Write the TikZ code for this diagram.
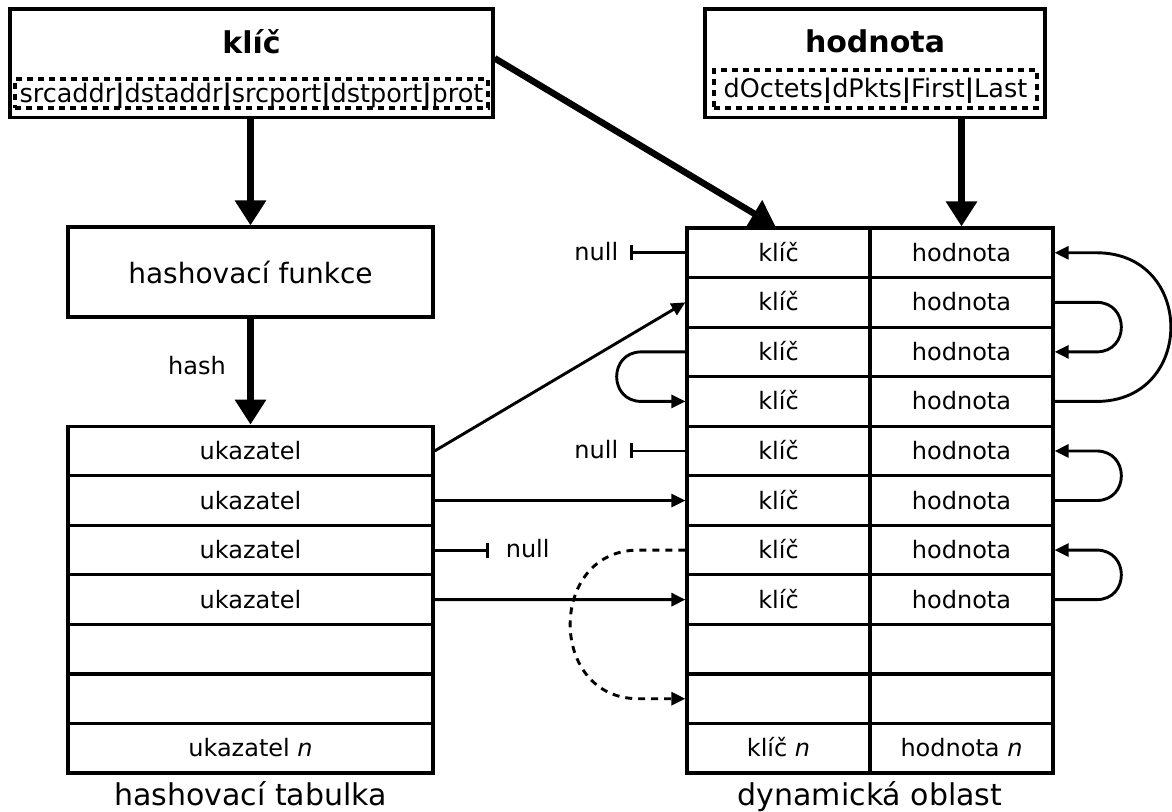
\documentclass[tikz,border=0pt]{standalone}
\usepackage{fontspec}
\setmainfont{DejaVu Sans}
\usetikzlibrary{arrows.meta}

\begin{document}
\begin{tikzpicture}[x=1pt,y=-1pt,
  box/.style={draw, line width=3.2pt, inner sep=0pt, rectangle},
  cell/.style={draw, line width=3.2pt, inner sep=0pt, minimum height=49.55pt,
    font=\fontsize{24}{28}\selectfont, text height=22pt, text depth=5pt},
  fields/.style={draw, line width=3.2pt, dash pattern=on 6pt off 5pt, inner sep=0pt,
    font=\fontsize{25.5}{30}\selectfont, text height=23pt, text depth=6pt},
  title/.style={font=\fontsize{30}{36}\selectfont\bfseries, inner sep=0pt, anchor=base},
  big/.style={line width=6.5pt, -{Triangle[length=25pt,width=30pt]}},
  ptr/.style={line width=2.9pt, -{Triangle[length=14pt,width=13pt]}},
  nil/.style={line width=2.9pt, -{Bar[width=15pt]}},
  lbl/.style={font=\fontsize{24}{28}\selectfont, inner sep=0pt},
  caption/.style={font=\fontsize{30}{36}\selectfont, inner sep=0pt, anchor=base},
]
\useasboundingbox (0,0) rectangle (1172,811);

% key record
\node[box, minimum width=483pt, minimum height=108.5pt] (key) at (251.5,63.25) {};
\node[title] (keyname) at (251.5,53) {klíč};
\node[fields, minimum width=473pt, minimum height=29pt] (keyfields) at (251.5,93.5)
  {srcaddr\textbf{|}dstaddr\textbf{|}srcport\textbf{|}dstport\textbf{|}prot};

% value record
\node[box, minimum width=340pt, minimum height=108.5pt] (val) at (875,63.25) {};
\node[title] (valname) at (875,52) {hodnota};
\node[fields, minimum width=323pt, minimum height=38pt, text height=22pt] (valfields) at (875.5,89)
  {dOctets\textbf{|}dPkts\textbf{|}First\textbf{|}Last};

% hash function
\node[box, minimum width=365pt, minimum height=90pt, font=\fontsize{28}{34}\selectfont,
  text height=27pt, text depth=5pt] (hashf) at (250.5,272) {hashovací funkce};

% hash table
\foreach \t [count=\i from 0] in {ukazatel,ukazatel,ukazatel,ukazatel,{},{},{ukazatel \textit{n}}}
  \node[cell, minimum width=365pt] (h\i) at (250.5,{426.2+49.55*(\i+0.5)}) {\t};

% dynamic area: keys and values
\foreach \t [count=\i from 0] in {klíč,klíč,klíč,klíč,klíč,klíč,klíč,klíč,{},{},{klíč \textit{n}}}
  \node[cell, minimum width=183pt] (k\i) at (778.5,{228+49.55*(\i+0.5)}) {\t};
\foreach \t [count=\i from 0] in {hodnota,hodnota,hodnota,hodnota,hodnota,hodnota,hodnota,hodnota,{},{},{hodnota \textit{n}}}
  \node[cell, minimum width=183pt] (v\i) at (961.5,{228+49.55*(\i+0.5)}) {\t};

% captions
\node[caption] (htcap) at (250.5,805) {hashovací tabulka};
\node[caption] (dacap) at (870,805) {dynamická oblast};

% main flow
\draw[big] (hashf.north |- key.south) -- (hashf.north);
\draw[big] (hashf.south) -- (h0.north);
\node[lbl, anchor=base] (hashlbl) at (197,374) {hash};
\draw[big] ([yshift=5pt]key.east) -- ([xshift=-3pt]k0.north);
\draw[big] (v0.north |- val.south) -- (v0.north);

% table pointers
\draw[ptr] (h0.east) -- (k1.west);
\draw[ptr] (h1.east) -- (k5.west);
\draw[ptr] (h3.east) -- (k7.west);

% null pointers
\coordinate (nk0) at ([xshift=-55pt]k0.west);
\draw[nil] (k0.west) -- (nk0);
\node[lbl, anchor=base east] (null0) at ([xshift=-67pt,yshift=-7.5pt]k0.west) {null};
\coordinate (nk4) at ([xshift=-55pt]k4.west);
\draw[nil] (k4.west) -- (nk4);
\node[lbl, anchor=base east] (null4) at ([xshift=-67pt,yshift=-7.5pt]k4.west) {null};
\coordinate (nh2) at ([xshift=54pt]h2.east);
\draw[nil] (h2.east) -- (nh2);
\node[lbl, anchor=base west] (nullh) at ([xshift=71pt,yshift=-7.5pt]h2.east) {null};

% value chains on the right
\draw[ptr] (v1.east) -- ++(42,0) .. controls +(33,0) and +(33,0) .. ([xshift=42pt]v2.east) -- (v2.east);
\draw[ptr] (v3.east) -- ++(42,0) .. controls +(99,0) and +(99,0) .. ([xshift=42pt]v0.east) -- (v0.east);
\draw[ptr] (v5.east) -- ++(42,0) .. controls +(33,0) and +(33,0) .. ([xshift=42pt]v4.east) -- (v4.east);
\draw[ptr] (v7.east) -- ++(42,0) .. controls +(33,0) and +(33,0) .. ([xshift=42pt]v6.east) -- (v6.east);

% key chains on the left
\draw[ptr] (k2.west) -- ++(-44,0) .. controls +(-33,0) and +(-33,0) .. ([xshift=-44pt]k3.west) -- (k3.west);
\draw[ptr, dash pattern=on 7pt off 6pt] (k6.west) -- ++(-47,0) .. controls +(-91,0) and +(-91,0) .. ([xshift=-47pt]k9.west) -- (k9.west);
\end{tikzpicture}
\end{document}
